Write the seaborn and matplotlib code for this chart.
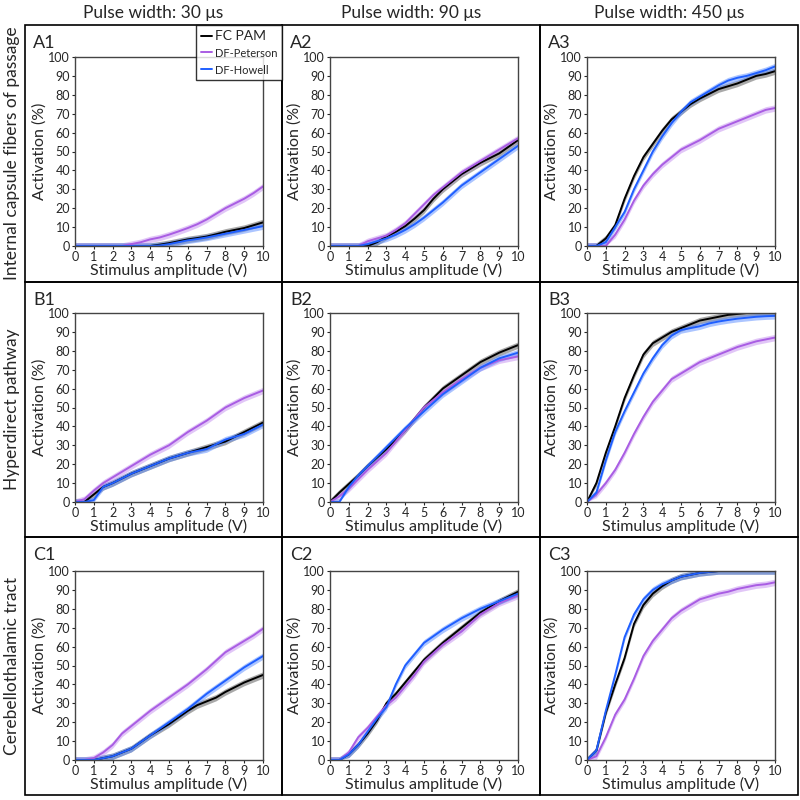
import matplotlib
matplotlib.use("Agg")
import matplotlib.pyplot as plt
from matplotlib.patches import Rectangle
import numpy as np
import pandas as pd
import seaborn as sns

# Stimulus amplitude grid (V)
amplitude = [0, 0.5, 1, 1.5, 2, 2.5, 3, 3.5, 4, 4.5, 5, 5.5, 6, 6.5, 7, 7.5, 8, 8.5, 9, 9.5, 10]

models = ["FC PAM", "DF-Peterson", "DF-Howell"]
pulse_widths = ["30", "90", "450"]
pathways = ["Internal capsule fibers of passage", "Hyperdirect pathway", "Cerebellothalamic tract"]

# Activation (%), one list per panel and model
a1_fc = [0, 0, 0, 0, 0, 0, 0, 0, 0, 0.7, 1.5, 2.5, 3.5, 4.2, 5, 6.2, 7.5, 8.5, 9.5, 11, 12.5]
a1_pet = [0, 0, 0, 0, 0, 0, 1, 2, 3.5, 4.5, 6, 7.7, 9.5, 11.5, 14, 17, 20, 22.5, 25, 28, 31.5]
a1_how = [0, 0, 0, 0, 0, 0, 0, 0, 0, 0.3, 1, 2, 3, 3.7, 4.5, 5.5, 6.5, 7.5, 8.5, 9.5, 10.5]

a2_fc = [0, 0, 0, 0, 0, 2, 5, 7.5, 10.5, 14.5, 19, 25, 30, 34, 38, 41, 44, 46.5, 49, 52.5, 56]
a2_pet = [0, 0, 0, 0, 2.5, 4, 5.5, 8.5, 12, 17, 22, 27, 31, 35, 39, 42, 45, 48, 51, 54, 57]
a2_how = [0, 0, 0, 0, 1, 2.5, 4, 6, 8.5, 11.5, 15, 19, 23, 27.5, 32, 35.5, 39, 42.5, 46, 49.5, 53]

a3_fc = [0, 0, 4, 11, 25, 37, 47, 54, 61, 67, 71, 75, 78, 80.5, 83, 84.5, 86, 88, 90, 91, 92.5]
a3_pet = [0, 0, 0, 6, 14, 24, 32, 38, 43, 47, 51, 53.5, 56, 59, 62, 64, 66, 68, 70, 72, 73]
a3_how = [0, 0, 2, 10, 18, 30, 40, 50, 58, 65, 71, 76, 79, 82, 85, 87.5, 89, 90, 91.5, 93, 95]

b1_fc = [0, 0, 4, 8, 10, 12.5, 15, 17, 19, 21, 23, 24.5, 26, 27.5, 29, 30.5, 32, 34.5, 37, 39.5, 42]
b1_pet = [0, 1.5, 6, 10, 13, 16, 19, 22, 25, 27.5, 30, 33.5, 37, 40, 43, 46.5, 50, 52.5, 55, 57, 59]
b1_how = [0, 0, 1, 8, 10, 12.5, 15, 17, 19, 21, 23, 24.5, 26, 27, 28, 30.5, 33, 34.5, 36, 38.5, 41]

b2_fc = [0, 5, 9.5, 14, 19, 23.5, 28, 33, 38, 44, 50, 55, 60, 63.5, 67, 70.5, 74, 76.5, 79, 81, 83]
b2_pet = [0, 3, 7, 12, 17, 21.5, 26, 32, 38, 44, 50, 54, 58, 61.5, 65, 68, 71, 73, 75, 76, 77]
b2_how = [0, 0, 8, 14, 19, 24, 29, 34, 39, 43.5, 48, 52.5, 57, 60.5, 64, 67.5, 71, 73.5, 76, 77.5, 79]

b3_fc = [0, 10, 26, 40, 55, 67, 78, 84, 87, 90, 92, 94, 96, 97, 98, 99, 99.5, 100, 100, 100, 100]
b3_pet = [0, 4, 10, 17, 26, 36, 45, 53, 59, 65, 68, 71, 74, 76, 78, 80, 82, 83.5, 85, 86, 87]
b3_how = [0, 5, 22, 37, 48, 58, 68, 76, 83, 88, 91, 92, 93, 94.5, 95.5, 96.3, 97, 97.5, 98, 98.3, 98.5]

c1_fc = [0, 0, 0, 1, 2, 4, 6, 9.5, 13, 16, 19, 22.5, 26, 29, 31, 33, 36, 38.5, 41, 43, 45]
c1_pet = [0, 0, 1, 4, 8, 14, 18, 22, 26, 29.5, 33, 36.5, 40, 44, 48, 52.5, 57, 60, 63, 66, 69.5]
c1_how = [0, 0, 0, 1, 2, 4, 6, 9.5, 13, 16.5, 20, 23.5, 27, 31, 35, 38.5, 42, 45.5, 49, 52, 55]

c2_fc = [0, 0, 3, 8, 14, 21, 30, 35, 41, 47, 53, 57.5, 62, 66, 70, 74, 78, 81, 84, 86.5, 89]
c2_pet = [0, 0, 4, 12, 17, 23, 29, 33, 39, 45, 52, 56.5, 61, 64.5, 68, 72.5, 77, 80, 83, 85, 87]
c2_how = [0, 0, 3, 8, 15, 22, 28, 40, 50, 56, 62, 65.5, 69, 72, 75, 77.5, 80, 82, 84, 86, 88]

c3_fc = [0, 5, 25, 40, 54, 72, 82, 88, 92, 95, 97, 98, 99, 99.5, 100, 100, 100, 100, 100, 100, 100]
c3_pet = [0, 2, 12, 24, 32, 43, 55, 63, 69, 75, 79, 82, 85, 86.5, 88, 89, 90.5, 91.5, 92.5, 93, 94]
c3_how = [0, 5, 26, 45, 65, 77, 85, 90, 93, 95, 97, 98, 99, 99.5, 100, 100, 100, 100, 100, 100, 100]

panels = [
    [("A1", a1_fc, a1_pet, a1_how), ("A2", a2_fc, a2_pet, a2_how), ("A3", a3_fc, a3_pet, a3_how)],
    [("B1", b1_fc, b1_pet, b1_how), ("B2", b2_fc, b2_pet, b2_how), ("B3", b3_fc, b3_pet, b3_how)],
    [("C1", c1_fc, c1_pet, c1_how), ("C2", c2_fc, c2_pet, c2_how), ("C3", c3_fc, c3_pet, c3_how)],
]

palette = {"FC PAM": "#000000", "DF-Peterson": "#a95de3", "DF-Howell": "#1f5fff"}
band_colors = {"FC PAM": "#555555", "DF-Peterson": "#c58ff0", "DF-Howell": "#5a8cff"}

sns.set_style("ticks")
plt.rcParams["font.family"] = ["Lato", "DejaVu Sans"]

fig = plt.figure(figsize=(8, 8), dpi=100)

W = 800.0
col_left = [75, 330, 587]
row_top = [57, 313, 571]
ax_w, ax_h = 188, 189
cell_x = [25, 282, 540, 798]
cell_y = [25, 282, 537, 795]

# cell frames
for r in range(3):
    for c in range(3):
        x0, x1 = cell_x[c], cell_x[c + 1]
        y0, y1 = cell_y[r], cell_y[r + 1]
        fig.patches.append(Rectangle((x0 / W, 1 - y1 / W), (x1 - x0) / W, (y1 - y0) / W,
                                     transform=fig.transFigure, fill=False,
                                     edgecolor="black", linewidth=1.2, zorder=0))

for r in range(3):
    for c in range(3):
        label, fc, pet, how = panels[r][c]
        ax = fig.add_axes([col_left[c] / W, 1 - (row_top[r] + ax_h) / W, ax_w / W, ax_h / W])
        df = pd.DataFrame({
            "amp": amplitude * 3,
            "act": fc + pet + how,
            "model": [m for m in models for _ in amplitude],
        })
        for m in models:
            sub = df[df["model"] == m]
            ax.fill_between(sub["amp"], np.clip(sub["act"] - 1.7, 0, 100),
                            np.clip(sub["act"] + 1.7, 0, 100),
                            color=band_colors[m], alpha=0.5, linewidth=0)
        sns.lineplot(data=df, x="amp", y="act", hue="model", palette=palette,
                     hue_order=models, ax=ax, legend=False, errorbar=None, linewidth=1.4)
        ax.set_xlim(0, 10)
        ax.set_ylim(0, 100)
        ax.set_xticks(range(0, 11))
        ax.set_yticks(range(0, 101, 10))
        ax.tick_params(labelsize=9, length=2.5, pad=1, width=0.8)
        for s in ax.spines.values():
            s.set_color("#444444")
            s.set_linewidth(1.0)
        ax.set_xlabel("Stimulus amplitude (V)", fontsize=11.5, labelpad=0)
        ax.set_ylabel("Activation (%)", fontsize=11.5, labelpad=1)
        fig.text((cell_x[c] + 8) / W, 1 - (cell_y[r] + 18) / W, label,
                 fontsize=13, ha="left", va="center")

for c in range(3):
    fig.text((cell_x[c] + cell_x[c + 1]) / 2 / W, 1 - 13 / W,
             f"Pulse width: {pulse_widths[c]} \u03bcs", fontsize=12.5,
             ha="center", va="center")

for r in range(3):
    fig.text(12 / W, 1 - (cell_y[r] + cell_y[r + 1]) / 2 / W, pathways[r],
             fontsize=12.5, rotation=90, ha="center", va="center")

# legend in the first cell
handles = [plt.Line2D([], [], color=palette[m], linewidth=1.4) for m in models]
leg = fig.legend(handles, models, loc="upper right",
                 bbox_to_anchor=(282 / W, 1 - 25 / W), borderaxespad=0,
                 frameon=True, fancybox=False, edgecolor="black",
                 handlelength=0.9, handletextpad=0.25, borderpad=0.4,
                 labelspacing=0.5, fontsize=8.5)
leg.get_frame().set_linewidth(1.0)
leg.get_texts()[0].set_fontsize(10)
for t in leg.get_texts()[1:]:
    t.set_fontsize(8)

fig.savefig("out.png", dpi=100, facecolor="white")
